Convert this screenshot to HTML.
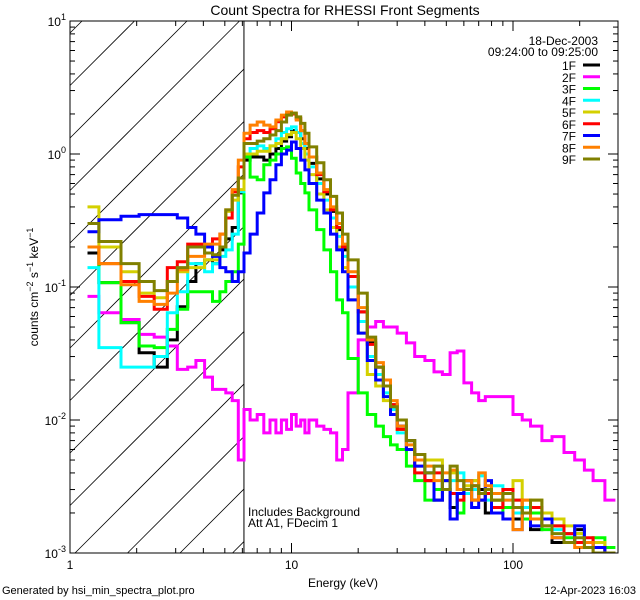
<!DOCTYPE html>
<html><head><meta charset="utf-8"><style>
html,body{margin:0;padding:0;background:#fff;}
svg{display:block;font-family:"Liberation Sans",sans-serif;}
</style></head><body>
<svg id="chart" width="640" height="600" viewBox="0 0 640 600">
<rect width="640" height="600" fill="#fff"/>
<text x="345" y="15" text-anchor="middle" font-size="14">Count Spectra for RHESSI Front Segments</text>
<g id="hatch"></g>
<g id="series" clip-path="url(#pc)"></g>
<g id="axes"></g>
<g id="legend"></g>
<text x="248" y="516" font-size="12">Includes Background</text>
<text x="248" y="527" font-size="12">Att A1, FDecim 1</text>
<text x="343" y="587" text-anchor="middle" font-size="12">Energy (keV)</text>
<text transform="translate(38,287) rotate(-90)" text-anchor="middle" font-size="12">counts cm<tspan dy="-5" font-size="9">−2</tspan><tspan dy="5"> s</tspan><tspan dy="-5" font-size="9">−1</tspan><tspan dy="5"> keV</tspan><tspan dy="-5" font-size="9">−1</tspan></text>
<text x="2" y="594" font-size="11">Generated by hsi_min_spectra_plot.pro</text>
<text x="636" y="594" text-anchor="end" font-size="11">12-Apr-2023 16:03</text>
<defs><clipPath id="pc"><rect x="70" y="21" width="548" height="532"/></clipPath></defs>
</svg>
<script>
const edges=[1.2,1.35,1.7,2.05,2.4,2.75,3.05,3.4,3.7,4.05,4.4,4.75,5.05,5.4,5.75,6.1,
6.5,7,7.5,8,8.5,9,9.5,10,10.5,11,11.5,12,13,14,15,16,17,18,20,22,24,26,28,30,
33,36,40,44,48,52,56,60,65,70,75,80,90,100,110,120,135,150,170,190,210,230,260,290];
const seriesNames=["1F","2F","3F","4F","5F","6F","7F","8F","9F"];
const seriesColors=["#000000","#ff00ff","#00ff00","#00ffff","#d4d000","#ff0000","#0000ff","#ff8000","#808000"];
const s1F=[0.18,0.108,0.054,0.032,0.025,0.04,0.071,0.11,0.15,0.16,0.15,0.19,0.23,0.28,0.51,
0.9,0.95,0.95,0.9,1.0,1.1,1.25,1.35,1.5,1.45,1.3,1.1,0.85,0.65,0.5,0.37,0.27,0.19,0.12,0.065,0.038,0.025,0.018,0.013,
0.009,0.007,0.005,0.0035,0.0025,0.003,0.0022,0.0028,0.0035,0.0025,0.003,0.002,0.0025,0.0022,0.0018,0.0022,0.0015,0.0018,0.0012,0.0014,0.0015,0.0012,0.0011,0.001];
const s2F=[0.085,0.064,0.057,0.044,0.042,0.036,0.024,0.025,0.028,0.021,0.017,0.017,0.016,0.014,0.005,
0.012,0.01,0.011,0.008,0.01,0.008,0.01,0.0085,0.011,0.009,0.01,0.008,0.01,0.009,0.0085,0.008,0.005,0.006,0.016,0.04,0.05,0.055,0.05,0.05,
0.045,0.038,0.03,0.028,0.023,0.022,0.032,0.033,0.019,0.016,0.014,0.015,0.015,0.015,0.011,0.01,0.009,0.007,0.0075,0.0057,0.005,0.0042,0.0035,0.0025];
const s3F=[0.2,0.108,0.054,0.036,0.035,0.048,0.068,0.092,0.092,0.092,0.078,0.092,0.11,0.13,0.21,
0.95,0.67,0.64,0.83,0.9,1.0,1.1,1.13,0.93,0.72,0.6,0.51,0.38,0.27,0.19,0.13,0.08,0.064,0.029,0.016,0.011,0.009,0.0075,0.0065,
0.006,0.0045,0.0035,0.0025,0.003,0.0035,0.0028,0.002,0.003,0.0035,0.0025,0.0028,0.002,0.0022,0.0025,0.0018,0.002,0.0015,0.0016,0.0013,0.0014,0.0012,0.0013,0.0011];
const s4F=[0.14,0.035,0.025,0.025,0.03,0.064,0.092,0.15,0.15,0.13,0.15,0.17,0.19,0.25,0.52,
1.0,1.1,1.15,1.1,1.15,1.3,1.45,1.55,1.6,1.45,1.2,1.0,0.8,0.6,0.45,0.33,0.24,0.17,0.1,0.055,0.03,0.022,0.016,0.012,
0.008,0.006,0.005,0.004,0.0045,0.003,0.0035,0.004,0.0028,0.003,0.0038,0.0025,0.0032,0.0025,0.002,0.0022,0.0018,0.0016,0.0015,0.0014,0.0012,0.0012,0.0011,0.001];
const s5F=[0.4,0.2,0.13,0.09,0.083,0.11,0.13,0.14,0.14,0.16,0.16,0.2,0.37,0.45,0.54,
1.0,1.0,1.05,1.05,1.15,1.2,1.3,1.4,1.45,1.3,1.1,0.9,0.7,0.5,0.38,0.28,0.2,0.14,0.08,0.045,0.022,0.018,0.014,0.011,
0.0085,0.006,0.0045,0.005,0.005,0.0035,0.004,0.003,0.0032,0.0035,0.0028,0.003,0.0025,0.0028,0.0035,0.0025,0.0025,0.002,0.0018,0.0016,0.0014,0.0012,0.0012,0.001];
const s6F=[0.2,0.15,0.11,0.085,0.068,0.14,0.155,0.21,0.21,0.2,0.23,0.25,0.33,0.52,0.8,
1.3,1.45,1.5,1.45,1.55,1.75,1.9,2.0,2.0,1.85,1.5,1.2,0.95,0.7,0.52,0.38,0.28,0.2,0.12,0.065,0.037,0.025,0.018,0.013,
0.0085,0.006,0.004,0.0035,0.004,0.003,0.0028,0.0025,0.003,0.0032,0.0025,0.0028,0.0022,0.003,0.0025,0.002,0.0022,0.0018,0.0016,0.0014,0.0012,0.0013,0.0011,0.001];
const s7F=[0.26,0.32,0.34,0.35,0.35,0.35,0.33,0.28,0.25,0.2,0.17,0.14,0.13,0.11,0.13,
0.18,0.25,0.36,0.51,0.64,0.83,1.0,1.07,1.23,1.1,0.9,0.76,0.6,0.45,0.36,0.25,0.19,0.13,0.08,0.045,0.028,0.02,0.015,0.011,
0.009,0.006,0.0045,0.004,0.0025,0.0035,0.0018,0.0028,0.0035,0.0022,0.0025,0.0035,0.002,0.0018,0.0015,0.002,0.0016,0.0018,0.0013,0.0012,0.0016,0.0012,0.0011,0.001];
const s8F=[0.2,0.15,0.104,0.078,0.074,0.09,0.135,0.17,0.17,0.21,0.21,0.25,0.38,0.54,0.9,
1.43,1.65,1.74,1.65,1.6,1.8,1.96,2.07,2.03,1.8,1.5,1.2,0.95,0.72,0.54,0.4,0.3,0.21,0.13,0.07,0.04,0.027,0.02,0.014,
0.009,0.0065,0.005,0.0045,0.0035,0.004,0.0042,0.003,0.0035,0.0025,0.004,0.0032,0.0028,0.0025,0.0015,0.0025,0.0018,0.0016,0.0013,0.0012,0.0011,0.0012,0.001,0.001];
const s9F=[0.3,0.22,0.15,0.11,0.094,0.11,0.14,0.2,0.2,0.18,0.175,0.2,0.38,0.49,0.66,
1.2,1.2,1.25,1.3,1.39,1.5,1.74,1.96,2.03,1.9,1.7,1.43,1.13,0.86,0.64,0.48,0.36,0.25,0.16,0.09,0.042,0.025,0.018,0.0126,
0.01,0.007,0.0055,0.004,0.0045,0.003,0.0045,0.0035,0.003,0.0032,0.0028,0.003,0.0025,0.0028,0.0022,0.002,0.0025,0.0016,0.0014,0.0012,0.0013,0.0011,0.001,0.001];
const seriesValues=[s1F,s2F,s3F,s4F,s5F,s6F,s7F,s8F,s9F];
const xTickLabels=["1","10","100"];
const yTickExps=["1","0","-1","-2","-3"];

const NS="http://www.w3.org/2000/svg";
const X0=70,X1=618,Y0=21,Y1=553;
const xDec=221.5,yTop=1,yBot=-3;
function xs(e){return X0+xDec*Math.log10(e);}
function ys(v){const l=Math.log10(Math.max(v,1e-4));return Y0+(yTop-l)*(Y1-Y0)/(yTop-yBot);}
function mk(t,a,p){const el=document.createElementNS(NS,t);for(const k in a)el.setAttribute(k,a[k]);p.appendChild(el);return el;}

// hatch
const hatch=document.getElementById('hatch');
const hx1=xs(6.1);
for(let c=33;c<Y1+(hx1-X0);c+=52.5){
  let xa=X0,ya=c;
  if(ya>Y1){xa=X0+(ya-Y1);ya=Y1;}
  let xb=X0+(c-Y0),yb=Y0;
  if(xb>hx1){yb=Y0+(xb-hx1);xb=hx1;}
  if(xa>=hx1||ya<=Y0)continue;
  const ln=mk('line',{x1:xa,y1:ya,x2:xb,y2:yb,stroke:'#000','stroke-width':0.8},hatch);
  
  
}
const vl=mk('line',{x1:hx1,y1:Y0,x2:hx1,y2:Y1,stroke:'#000','stroke-width':1},hatch);



// series
const sg=document.getElementById('series');
seriesValues.forEach((vals,si)=>{
  let d='';
  for(let i=0;i<vals.length;i++){
    const xa=xs(edges[i]).toFixed(1),xb=xs(edges[i+1]).toFixed(1),y=ys(vals[i]).toFixed(1);
    d+=(i===0?'M':'L')+xa+','+y+'L'+xb+','+y;
  }
  const p=mk('path',{d:d,fill:'none',stroke:seriesColors[si],'stroke-width':3,'stroke-linejoin':'miter'},sg);
  
  
});

// axes
const ax=document.getElementById('axes');
const fr=mk('rect',{x:X0,y:Y0,width:X1-X0,height:Y1-Y0,fill:'none',stroke:'#000','stroke-width':1},ax);


for(let dec=0;dec<3;dec++){
  for(let m=1;m<10;m++){
    const e=m*Math.pow(10,dec);const x=xs(e);if(x>X1)break;
    const L=m===1?10:5;
    const t1=mk('line',{x1:x,y1:Y1,x2:x,y2:Y1-L,stroke:'#000'},ax);
    
    
    const t2=mk('line',{x1:x,y1:Y0,x2:x,y2:Y0+L,stroke:'#000'},ax);
    
    
  }
}
xTickLabels.forEach((lab)=>{
  const t=mk('text',{x:xs(+lab),y:Y1+16,'text-anchor':'middle','font-size':12},ax);
  t.textContent=lab;
  
  
});
for(let ex=-3;ex<1;ex++){
  for(let m=1;m<10;m++){
    const v=m*Math.pow(10,ex);const y=ys(v);
    const L=m===1?10:5;
    const t1=mk('line',{x1:X0,y1:y,x2:X0+L,y2:y,stroke:'#000'},ax);
    
    
    const t2=mk('line',{x1:X1,y1:y,x2:X1-L,y2:y,stroke:'#000'},ax);
    
    
  }
}
yTickExps.forEach((ex)=>{
  const y=ys(Math.pow(10,+ex));
  const t=mk('text',{x:X0-4,y:y+5,'text-anchor':'end','font-size':12},ax);
  
  
  const b=mk('tspan',{},t);b.textContent='10';
  const s=mk('tspan',{dy:-6,'font-size':9},t);s.textContent=ex;
});

// legend
const lg=document.getElementById('legend');
const d1=mk('text',{x:598,y:45,'text-anchor':'end','font-size':12},lg);d1.textContent='18-Dec-2003';


const d2=mk('text',{x:598,y:56,'text-anchor':'end','font-size':12},lg);d2.textContent='09:24:00 to 09:25:00';


seriesNames.forEach((n,i)=>{
  const y=65+i*11.75;
  const g=mk('g',{},lg);
  
  
  const t=mk('text',{x:576,y:y+5,'text-anchor':'end','font-size':12},g);t.textContent=n;
  mk('line',{x1:583,y1:y,x2:600,y2:y,stroke:seriesColors[i],'stroke-width':3},g);
});
</script>
</body></html>
